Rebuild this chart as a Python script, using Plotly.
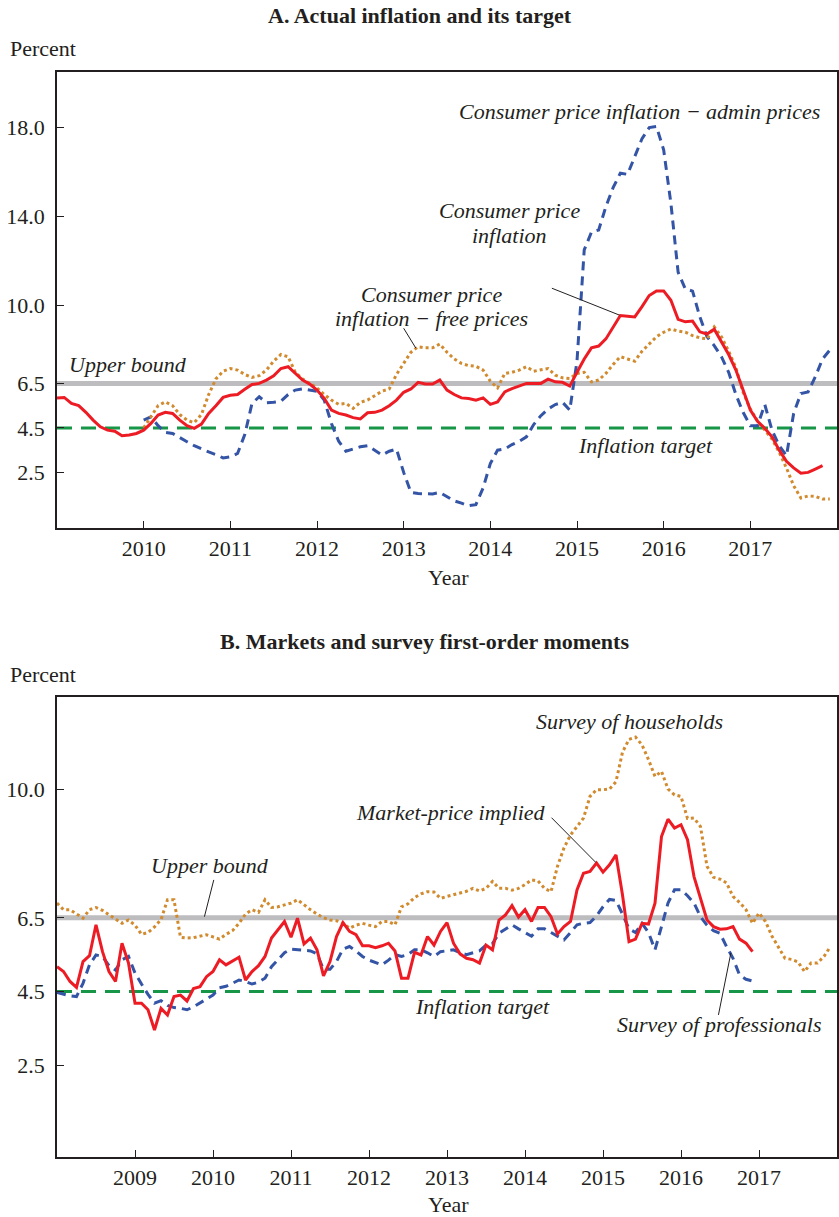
import numpy as np
import plotly.graph_objects as go

# Panel A: 12-month inflation, percent (monthly)
cpi_start = 2009.0
cpi = [5.84, 5.87, 5.6, 5.5, 5.2, 4.85, 4.55, 4.4, 4.35, 4.15, 4.18, 4.25,
       4.4, 4.7, 5.08, 5.2, 5.15, 4.85, 4.6, 4.48, 4.67, 5.15, 5.5, 5.87,
       5.97, 6.0, 6.24, 6.45, 6.5, 6.65, 6.84, 7.17, 7.25, 6.95, 6.65, 6.47,
       6.2, 5.83, 5.3, 5.15, 5.08, 4.96, 4.9, 5.18, 5.2, 5.3, 5.5, 5.75,
       6.1, 6.25, 6.55, 6.47, 6.47, 6.65, 6.2, 6.0, 5.85, 5.82, 5.75, 5.85,
       5.56, 5.67, 6.12, 6.27, 6.4, 6.5, 6.5, 6.5, 6.69, 6.57, 6.55, 6.38,
       7.0, 7.6, 8.1, 8.18, 8.5, 9.0, 9.55, 9.52, 9.49, 9.95, 10.45, 10.66,
       10.66, 10.24, 9.38, 9.27, 9.3, 8.82, 8.72, 8.94, 8.37, 7.8, 7.1, 6.2,
       5.3, 4.8, 4.48, 4.1, 3.5, 3.0, 2.7, 2.46, 2.5, 2.65, 2.8]

split_start = 2010.0
cpi_free = [4.5, 5.0, 5.5, 5.67, 5.5, 5.1, 4.85, 4.73, 5.1, 6.0, 6.7, 7.05,
            7.17, 7.1, 6.9, 6.77, 6.85, 7.1, 7.5, 7.8, 7.7, 7.0, 6.7, 6.5,
            6.3, 6.0, 5.75, 5.56, 5.6, 5.38, 5.65, 5.75, 5.95, 6.15, 6.25, 6.9,
            7.4, 7.9, 8.15, 8.1, 8.1, 8.27, 7.9, 7.6, 7.4, 7.3, 7.27, 7.1,
            6.6, 6.3, 6.95, 7.0, 7.1, 7.25, 7.05, 7.1, 7.17, 6.87, 6.75, 6.72,
            6.95, 7.0, 6.57, 6.65, 6.95, 7.35, 7.7, 7.6, 7.5, 7.95, 8.3, 8.6,
            8.8, 8.95, 8.85, 8.8, 8.65, 8.55, 8.5, 9.04, 8.6, 7.95, 7.2, 6.1,
            5.35, 4.8, 4.4, 4.0, 3.4, 2.7, 1.9, 1.35, 1.44, 1.42, 1.3, 1.3]

cpi_admin = [4.85, 5.0, 4.6, 4.3, 4.25, 4.05, 3.88, 3.7, 3.55, 3.42, 3.3, 3.15,
             3.2, 3.35, 4.2, 5.6, 5.9, 5.63, 5.65, 5.7, 6.0, 6.2, 6.25, 6.2,
             6.15, 5.75, 4.7, 3.9, 3.45, 3.55, 3.65, 3.7, 3.5, 3.28, 3.45, 3.55,
             2.5, 1.6, 1.55, 1.55, 1.53, 1.6, 1.4, 1.22, 1.12, 1.0, 1.05, 1.8,
             2.9, 3.5, 3.55, 3.75, 3.9, 4.1, 4.65, 5.05, 5.35, 5.55, 5.65, 5.3,
             7.5, 12.5, 13.3, 13.4, 14.45, 15.3, 15.95, 15.9, 16.7, 17.5, 18.0, 18.05,
             17.0, 14.6, 11.5, 10.75, 10.65, 9.5, 8.6, 8.2, 7.7, 7.0, 6.0, 5.2,
             4.6, 4.6, 5.55, 4.4, 3.7, 3.25, 5.15, 6.05, 6.12, 6.8, 7.6, 8.0]

# Panel B: inflation expectations, percent (monthly)
exp_start = 2008.0
market_implied = [5.17, 5.04, 4.77, 4.61, 5.31, 5.47, 6.31, 5.58, 5.04, 4.77, 5.81, 5.27,
                  4.18, 4.18, 4.0, 3.45, 4.04, 3.86, 4.36, 4.4, 4.24, 4.58, 4.63, 4.9,
                  5.04, 5.36, 5.22, 5.33, 5.43, 4.81, 5.04, 5.2, 5.45, 5.95, 6.17, 6.4,
                  5.97, 6.49, 5.79, 5.95, 5.63, 4.92, 5.31, 5.99, 6.37, 6.13, 6.04, 5.74,
                  5.74, 5.69, 5.74, 5.81, 5.6, 4.86, 4.86, 5.56, 5.49, 5.99, 5.76, 6.13,
                  6.37, 5.81, 5.52, 5.4, 5.36, 5.27, 5.76, 5.63, 6.44, 6.58, 6.83, 6.52,
                  6.72, 6.4, 6.78, 6.78, 6.53, 6.06, 6.26, 6.4, 7.26, 7.71, 7.76, 7.99,
                  7.74, 7.94, 8.21, 7.12, 5.85, 5.92, 6.35, 6.33, 6.9, 8.71, 9.18, 8.94,
                  9.03, 8.62, 7.62, 7.03, 6.44, 6.26, 6.19, 6.2, 6.26, 5.92, 5.81, 5.58]

professionals = [4.47, 4.42, 4.38, 4.36, 4.72, 5.22, 5.49, 5.45, 5.2, 5.08, 5.36, 5.45,
                 5.0, 4.7, 4.42, 4.18, 4.25, 4.12, 4.06, 4.04, 4.0, 4.08, 4.18, 4.3,
                 4.4, 4.6, 4.64, 4.72, 4.81, 4.77, 4.7, 4.75, 4.86, 5.17, 5.35, 5.55,
                 5.65, 5.64, 5.62, 5.6, 5.52, 5.1, 5.1, 5.31, 5.65, 5.72, 5.6, 5.45,
                 5.35, 5.28, 5.22, 5.35, 5.5, 5.45, 5.5, 5.63, 5.63, 5.55, 5.45, 5.58,
                 5.6, 5.63, 5.55, 5.5, 5.55, 5.6, 5.76, 5.8, 6.08, 6.2, 6.31, 6.2,
                 6.1, 6.0, 6.2, 6.2, 6.1, 6.0, 5.9, 6.1, 6.31, 6.35, 6.37, 6.55,
                 6.8, 7.0, 6.97, 6.6, 6.2, 6.1, 6.35, 6.1, 5.63, 6.26, 6.9, 7.26,
                 7.26, 7.1, 6.9, 6.53, 6.3, 6.15, 6.08, 5.72, 5.4, 4.95, 4.83, 4.78]

households = [6.9, 6.72, 6.72, 6.6, 6.49, 6.72, 6.78, 6.7, 6.58, 6.45, 6.35, 6.44,
              6.3, 6.05, 6.1, 6.25, 6.45, 6.99, 6.99, 5.97, 5.95, 5.96, 6.0, 6.04,
              5.98, 5.92, 6.05, 6.15, 6.35, 6.6, 6.72, 6.65, 6.99, 6.78, 6.8, 6.85,
              6.9, 6.99, 6.85, 6.72, 6.6, 6.5, 6.44, 6.42, 6.35, 6.22, 6.3, 6.35,
              6.3, 6.26, 6.4, 6.4, 6.31, 6.8, 6.88, 7.05, 7.15, 7.21, 7.2, 7.03,
              7.08, 7.12, 7.17, 7.22, 7.3, 7.23, 7.3, 7.49, 7.3, 7.3, 7.25, 7.3,
              7.4, 7.53, 7.5, 7.3, 7.21, 7.9, 8.4, 8.75, 8.98, 9.21, 9.8, 9.98,
              9.98, 10.0, 10.2, 11.0, 11.35, 11.41, 11.2, 10.8, 10.34, 10.48, 10.0, 9.84,
              9.8, 9.2, 9.21, 8.98, 7.9, 7.6, 7.55, 7.45, 7.08, 6.92, 6.72, 6.35,
              6.63, 6.4, 6.0, 5.7, 5.4, 5.37, 5.3, 5.04, 5.27, 5.27, 5.45, 5.72]

UPPER_BOUND = 6.5
TARGET = 4.5

yticks_a = [2.5, 4.5, 6.5, 10.0, 14.0, 18.0]
yticks_b = [2.5, 4.5, 6.5, 10.0]
years_a = list(range(2010, 2018))
years_b = list(range(2009, 2018))

RED = "#ed1c24"
BLUE = "#3454a6"
ORANGE = "#d18a2e"
GREEN = "#179647"
GREY = "#bdbdbf"
INK = "#231f20"
FONT = "Liberation Serif"

W, H = 839, 1217
ML, MR, MT, MB = 57, 2, 72, 60


def months(start, values):
    return start + np.arange(len(values)) / 12


def paper(x, y):
    # pixel position -> paper coordinates
    return (x - ML) / (W - ML - MR), (H - MB - y) / (H - MT - MB)


fig = go.Figure()

# panel A
fig.add_trace(go.Scatter(x=months(split_start, cpi_admin), y=cpi_admin, mode="lines",
                         line=dict(color=BLUE, width=3, dash="9px,6px"), xaxis="x", yaxis="y"))
fig.add_trace(go.Scatter(x=months(split_start, cpi_free), y=cpi_free, mode="lines",
                         line=dict(color=ORANGE, width=3, dash="dot"), xaxis="x", yaxis="y"))
fig.add_trace(go.Scatter(x=months(cpi_start, cpi), y=cpi, mode="lines",
                         line=dict(color=RED, width=3), xaxis="x", yaxis="y"))

# panel B
fig.add_trace(go.Scatter(x=months(exp_start, households), y=households, mode="lines",
                         line=dict(color=ORANGE, width=3, dash="dot"), xaxis="x2", yaxis="y2"))
fig.add_trace(go.Scatter(x=months(exp_start, professionals), y=professionals, mode="lines",
                         line=dict(color=BLUE, width=3, dash="9px,6px"), xaxis="x2", yaxis="y2"))
fig.add_trace(go.Scatter(x=months(exp_start, market_implied), y=market_implied, mode="lines",
                         line=dict(color=RED, width=3), xaxis="x2", yaxis="y2"))

shapes = []
for xr, yr in [("x", "y"), ("x2", "y2")]:
    shapes.append(dict(type="line", xref=xr + " domain", yref=yr, x0=0, x1=1,
                       y0=UPPER_BOUND, y1=UPPER_BOUND, layer="below",
                       line=dict(color=GREY, width=5)))
    shapes.append(dict(type="line", xref=xr + " domain", yref=yr, x0=0, x1=1,
                       y0=TARGET, y1=TARGET, layer="below",
                       line=dict(color=GREEN, width=3, dash="15px,9px")))

# leader lines from labels to series
leaders = [("x", "y", 2014.71, 10.78, 2015.49, 9.57),
           ("x", "y", 2013.0, 8.98, 2013.14, 8.09),
           ("x2", "y2", 2014.34, 9.22, 2014.91, 8.0),
           ("x2", "y2", 2010.01, 7.53, 2009.89, 6.53),
           ("x2", "y2", 2016.48, 3.86, 2016.64, 5.55)]
for xr, yr, x0, y0, x1, y1 in leaders:
    shapes.append(dict(type="line", xref=xr, yref=yr, x0=x0, y0=y0, x1=x1, y1=y1,
                       line=dict(color=INK, width=1)))

ann = []
labels = [("x", "y", 2015.72, 18.73, "Consumer price inflation \u2212 admin prices"),
          ("x", "y", 2014.22, 14.29, "Consumer price"),
          ("x", "y", 2014.22, 13.16, "inflation"),
          ("x", "y", 2013.32, 10.51, "Consumer price"),
          ("x", "y", 2013.32, 9.43, "inflation \u2212 free prices"),
          ("x", "y", 2009.82, 7.37, "Upper bound"),
          ("x", "y", 2015.79, 3.73, "Inflation target"),
          ("x2", "y2", 2015.34, 11.83, "Survey of households"),
          ("x2", "y2", 2013.05, 9.35, "Market-price implied"),
          ("x2", "y2", 2009.96, 7.91, "Upper bound"),
          ("x2", "y2", 2013.45, 4.08, "Inflation target"),
          ("x2", "y2", 2016.49, 3.59, "Survey of professionals")]
for xr, yr, x, y, text in labels:
    ann.append(dict(xref=xr, yref=yr, x=x, y=y, text="<i>" + text + "</i>",
                    showarrow=False, font=dict(family=FONT, size=22, color=INK)))

page_text = [(420, 15, "<b>A. Actual inflation and its target</b>", "center"),
             (8, 48, "Percent", "left"),
             (448, 577, "Year", "center"),
             (424, 642, "<b>B. Markets and survey first-order moments</b>", "center"),
             (8, 674, "Percent", "left"),
             (448, 1204, "Year", "center")]
for x, y, text, anchor in page_text:
    px_, py_ = paper(x, y)
    ann.append(dict(xref="paper", yref="paper", x=px_, y=py_, text=text, xanchor=anchor,
                    yanchor="middle", showarrow=False,
                    font=dict(family=FONT, size=22, color=INK)))

axis_common = dict(showline=True, mirror=True, linecolor=INK, linewidth=1.5,
                   ticks="inside", ticklen=7, tickwidth=1.2, tickcolor=INK,
                   showgrid=False, zeroline=False, automargin=False,
                   tickfont=dict(family=FONT, size=22, color=INK))

fig.update_layout(
    width=W, height=H,
    margin=dict(l=ML, r=MR, t=MT, b=MB),
    paper_bgcolor="white", plot_bgcolor="white",
    showlegend=False,
    xaxis=dict(domain=[0, 1], anchor="y", range=[2009, 2018], tickvals=years_a,
               ticklabelstandoff=0, **axis_common),
    yaxis=dict(domain=[paper(0, 528)[1], 1], anchor="x", range=[0, 20.5],
               tickvals=yticks_a, ticktext=[f"{v:.1f}" for v in yticks_a],
               ticklabelstandoff=6, **axis_common),
    xaxis2=dict(domain=[0, 1], anchor="y2", range=[2008, 2018], tickvals=years_b,
                ticklabelstandoff=0, **axis_common),
    yaxis2=dict(domain=[0, paper(0, 697)[1]], anchor="x2", range=[0, 12.5],
                tickvals=yticks_b, ticktext=[f"{v:.1f}" for v in yticks_b],
                ticklabelstandoff=6, **axis_common),
    shapes=shapes,
    annotations=ann,
)

# page has a default body margin; drop it so the figure fills the window
fig.write_html("out.html", config={"displayModeBar": False},
               post_script="document.body.style.margin = '0';")
